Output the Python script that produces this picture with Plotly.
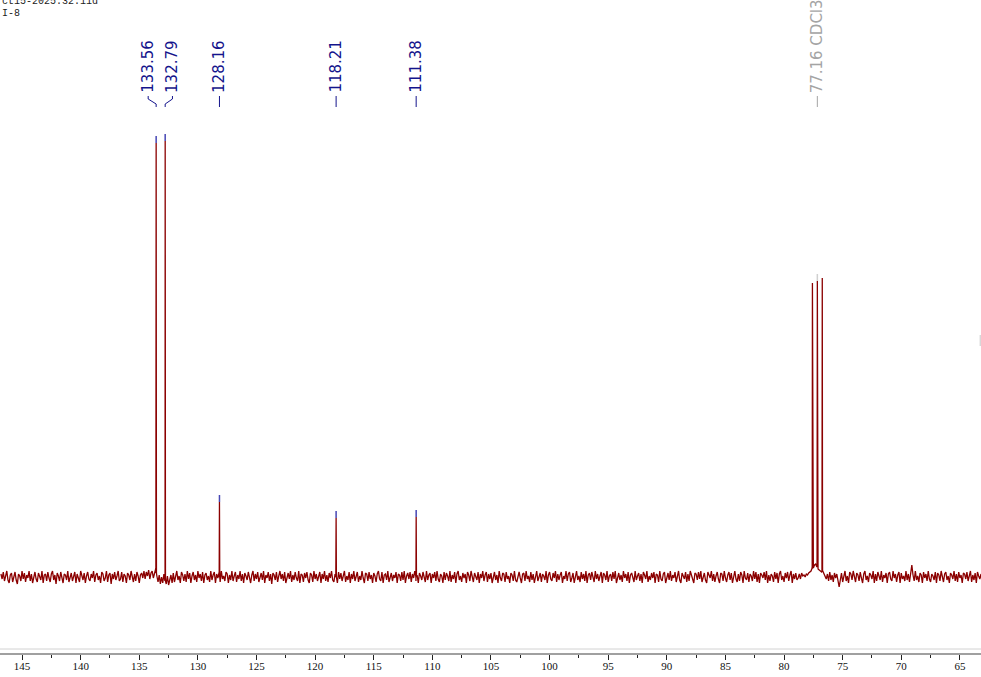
import plotly.graph_objects as go

# ---------------- data ----------------
peak_ppm = [133.56, 132.79, 128.16, 118.21, 111.38]
peak_height = [434, 436, 75, 59, 60]
peak_foot = [4, -4, 0, 0, 0]
peak_labels = ["133.56", "132.79", "128.16", "118.21", "111.38"]
label_shift = [0.68, -0.62, 0.0, 0.0, 0.0]   # label spread for the crowded pair (ppm)

solvent_ppm = [77.58, 77.16, 76.74]
solvent_height = [294, 296, 299]
solvent_foot = [9, 11, 6]
solvent_label = "77.16 CDCl3"

header_lines = ["ct15-2025.32.11d", "I-8"]
axis_title = "f1 (ppm)"

noise_start = 146.8
noise_step = 0.1
noise = [
    3, -2, 5, -4, 1, 6, -3, -6, 2, 4, -5, 0, 5, -3, -7, 3, 1, -4, 6, -2,
    4, -5, 2, -1, 6, -4, 3, -6, 1, 5, -2, -5, 4, 0, -3, 6, -6, 2, 3, -4,
    5, -1, -5, 3, 6, -3, 2, -7, 4, 1, -4, 5, -2, -6, 3, 2, -3, 6, -5, 1,
    4, -4, 2, 5, -6, 3, -1, -5, 6, 2, -3, 4, -6, 1, 5, -2, -4, 3, -1, 6,
    -5, 2, 4, -3, 1, -6, 5, 3, -4, -1, 6, -5, 2, 4, -7, 3, -2, 5, -3, 1,
    6, -4, -2, 5, -5, 3, 1, -6, 4, 2, -3, 6, -1, -5, 3, -4, 5, 1, -6, 2,
    4, -1, 6, -2, 5, 1, 7, -2, 4, 6, -1, 5, 8, 1, -5, 2, -7, 0, -6, 3,
    -2, -7, 1, -8, -3, 2, -6, 4, -5, 3, 6, -3, 1, -6, 5, 2, -4, 3, -5, 6,
    -2, 4, -6, 1, 5, -3, 2, -5, 6, -1, 3, -4, 5, -6, 2, 4, -3, 1, -5, 6,
    -3, 2, 5, -6, 3, -1, 4, -5, 6, -2, 1, -4, 5, 3, -6, 2, -3, 6, -4, 1,
    5, -5, 2, -2, 6, -4, 3, -6, 4, 1, -3, 5, -1, -6, 2, 6, -4, 3, -2, 5,
    -5, 1, 4, -3, 6, -6, 2, -1, 5, -4, 3, -7, 4, 2, -3, 5, -5, 1, 6, -2,
    3, -4, 5, -6, 1, 4, -2, 6, -5, 2, -3, 5, -1, -4, 6, -6, 3, 2, -5, 4,
    -1, 5, -3, -6, 4, 2, -5, 6, -2, 3, -4, 1, 5, -6, 3, -2, 6, -4, 2, -5,
    4, -1, 6, -3, -5, 3, 1, -6, 5, -2, 4, -4, 2, 6, -5, 1, -3, 5, -6, 3,
    -2, 6, -4, 2, 5, -5, 1, -3, 6, -1, -6, 4, 3, -4, 5, -2, 2, -6, 4, 1,
    -5, 3, 6, -2, -4, 5, -6, 2, 3, -3, 6, -5, 1, 4, -4, 2, -1, 5, -6, 3,
    2, -4, 5, -3, 6, -6, 1, 4, -2, 5, -5, 3, -1, 6, -4, 2, -6, 4, 1, -3,
    5, -2, -5, 6, -3, 2, 4, -6, 3, -1, 5, -4, 6, -2, -5, 3, 1, -6, 5, -3,
    4, 1, -4, 6, -5, 2, -2, 5, -6, 3, 6, -3, 1, -5, 4, -1, 3, -6, 5, 2,
    -4, 6, -2, -5, 4, 1, -3, 5, -6, 3, -1, 6, -4, 2, 5, -5, 3, -2, 4, -6,
    1, 5, -3, 2, -6, 6, -1, -4, 4, 3, -5, 5, -2, 1, -6, 4, 2, -4, 6, -3,
    -5, 2, 5, -1, -6, 3, 4, -4, 6, -2, 1, -5, 5, -3, 3, -6, 2, 6, -4, -1,
    4, -5, 3, 1, -3, 6, -6, 2, 5, -2, -4, 4, -1, 6, -5, 3, -3, 2, 5, -6,
    1, -2, 6, -4, 3, 5, -5, -1, 4, -6, 2, 6, -3, 1, -5, 5, -2, 3, -4, 6,
    -6, 2, 4, -3, 5, -1, -5, 6, -2, 3, -4, 1, 5, -6, 4, 2, -3, 6, -5, 1,
    3, -4, 5, -2, 6, -6, 1, 4, -3, 2, -5, 6, -1, 3, -4, 5, -6, 2, 4, -2,
    -5, 6, -3, 1, 4, -4, 3, -6, 5, 2, -2, 6, -5, 1, -3, 4, -1, 5, -6, 3,
    2, -5, 6, -2, -4, 3, 5, -6, 1, 4, -3, 6, -4, 2, -1, 5, -5, 3, 6, -3,
    -6, 4, 1, -2, 5, -5, 3, -4, 6, 2, -1, -6, 4, 3, -3, 5, -2, 6, -5, 1,
    4, -3, -6, 5, 2, -1, 6, -4, 3, -5, 1, 5, -2, -6, 4, 3, -4, 6, -1, -5,
    2, 5, -3, 4, -6, 1, 6, -2, -5, 3, -4, 5, 2, -6, 6, -1, -3, 4, -5, 3,
    1, -4, 6, -2, 5, -5, 3, -6, 4, 2, -1, 5, -3, 6, -6, 2, -4, 3, 1, -5,
    5, -2, 4, -6, 3, 6, -3, 1, -5, 4, -1, 5, -4, 2, 6, -6, 3, -2, 4, -3,
    -1, 3, -2, 4, 1, 2, 0, 3, 2, 4, 5, 6, 8, 9, 12, 13, 10, 8, 7, 6,
    5, 6, 3, 1, -2, 3, -4, 5, -3, 2, -5, 4, -1, 3, -6, -10, -3, 4, -5, 2,
    6, -4, 1, -6, 5, 3, -3, 6, -2, -5, 4, 2, -4, 5, -1, -6, 3, 6, -3, 1,
    -5, 4, 2, -2, 6, -6, 3, -4, 5, 1, -3, 6, -5, 2, -1, 4, -6, 3, 5, -2,
    -4, 6, -1, 3, -5, 2, 5, -6, 4, -2, 1, -4, 6, -3, 3, -5, 5, 12, 2, -4,
    6, -3, 1, -5, 4, 2, -6, 5, -1, 3, -4, 6, -2, -5, 3, 1, -3, 5, -6, 4,
    2, -4, 6, -1, -5, 3, 5, -3, 1, -6, 4, 2, -2, 6, -4, 3, -5, 5, -1, 2,
    -6, 4, 3, -2, 5, -4, 1, 6, -5, 2, -3, 4, -6, 5, 1, -2, 3, -5, 6, -3,
]

x_range = [146.88, 63.2]
y_range = [-76, 577]

# ---------------- build the spectrum trace ----------------
pts = [(noise_start - noise_step * i, v) for i, v in enumerate(noise)]
half = 0.025
for p, h, f in zip(peak_ppm + solvent_ppm, peak_height + solvent_height,
                   peak_foot + solvent_foot):
    pts += [(p + half, f), (p, h), (p - half, f)]
pts.sort(key=lambda t: -t[0])
spec_x = [t[0] for t in pts]
spec_y = [t[1] for t in pts]

RED = "#8b0000"
BLUE = "#4646b4"
NAVY = "#14148c"
GREY = "#a4a4a4"
TIP = 7

fig = go.Figure()
fig.add_trace(go.Scatter(x=spec_x, y=spec_y, mode="lines",
                         line=dict(color=RED, width=1.3), hoverinfo="skip",
                         showlegend=False))

# peak-pick tips
tx, ty = [], []
for p, h in zip(peak_ppm, peak_height):
    tx += [p, p, None]
    ty += [h, h + TIP, None]
fig.add_trace(go.Scatter(x=tx, y=ty, mode="lines", line=dict(color=BLUE, width=1.5),
                         hoverinfo="skip", showlegend=False))
sol_mid = solvent_ppm[1]
fig.add_trace(go.Scatter(x=[sol_mid, sol_mid], y=[solvent_height[1], solvent_height[1] + TIP],
                         mode="lines", line=dict(color="#d0d0d0", width=1.5),
                         hoverinfo="skip", showlegend=False))

PLOT_H = 653.0


def py(px):
    return 1 - px / PLOT_H


LABEL_FONT = "DejaVu Sans"
annotations = []
shapes = []
for p, lab, s in zip(peak_ppm, peak_labels, label_shift):
    lx = p + s
    annotations.append(dict(x=lx, xref="x", y=py(95), yref="paper", text=lab,
                            textangle=-90, showarrow=False, xanchor="center",
                            yanchor="bottom", font=dict(family=LABEL_FONT, size=15, color=NAVY)))
    if s == 0:
        shapes.append(dict(type="line", xref="x", yref="paper", x0=p, x1=p,
                           y0=py(96), y1=py(107), line=dict(color=NAVY, width=1)))
    else:
        path = "M %f,%f L %f,%f L %f,%f L %f,%f" % (lx, py(96), lx, py(99), p, py(104), p, py(107))
        shapes.append(dict(type="path", xref="x", yref="paper", path=path,
                           line=dict(color=NAVY, width=1)))

annotations.append(dict(x=sol_mid, xref="x", y=py(95), yref="paper", text=solvent_label,
                        textangle=-90, showarrow=False, xanchor="center", yanchor="bottom",
                        font=dict(family=LABEL_FONT, size=15, color=GREY)))
shapes.append(dict(type="line", xref="x", yref="paper", x0=sol_mid, x1=sol_mid,
                   y0=py(96), y1=py(107), line=dict(color=GREY, width=1)))

for i, line in enumerate(header_lines):
    annotations.append(dict(x=0, xref="paper", xanchor="left", y=py(1 + 12.5 * i),
                            yref="paper", yanchor="middle", text=line, showarrow=False,
                            font=dict(family="Liberation Mono", size=10, color="#222")))

# axis title, mostly below the visible window as in the reference
annotations.append(dict(x=0.5, xref="paper", xanchor="center", y=py(673), yref="paper",
                        yanchor="top", text=axis_title, showarrow=False,
                        font=dict(family="Liberation Serif", size=11, color="#111")))

# light frame line above the axis and small scroll mark at the right edge
shapes.append(dict(type="line", xref="paper", yref="paper", x0=0, x1=1,
                   y0=py(649), y1=py(649), line=dict(color="#d2d2d2", width=1)))
shapes.append(dict(type="line", xref="paper", yref="paper", x0=0.9992, x1=0.9992,
                   y0=py(335), y1=py(346), line=dict(color="#c8c8c8", width=1)))

fig.update_layout(
    width=981, height=677,
    margin=dict(l=0, r=0, t=0, b=24, autoexpand=False),
    paper_bgcolor="white", plot_bgcolor="white",
    annotations=annotations, shapes=shapes,
    showlegend=False,
    xaxis=dict(range=x_range, showgrid=False, zeroline=False, automargin=False,
               showline=True, linecolor="#a0a0a0", linewidth=2,
               ticks="outside", ticklen=5, tickwidth=1, tickcolor="#222",
               dtick=5, tick0=0, ticklabelstandoff=-3,
               minor=dict(dtick=2.5, tick0=0, ticks="outside", ticklen=3, tickcolor="#222"),
               tickfont=dict(family="Liberation Serif", size=11, color="#111")),
    yaxis=dict(range=y_range, visible=False, fixedrange=True),
)

fig.write_html("out.html", config={"displayModeBar": False},
               post_script="document.body.style.margin='0px';document.body.style.overflow='hidden';")
